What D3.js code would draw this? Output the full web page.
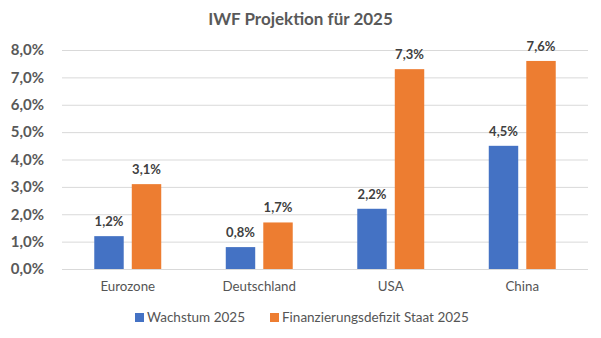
<!DOCTYPE html>
<html><head><meta charset="utf-8">
<script src="https://cdn.jsdelivr.net/npm/d3@7"></script>
<style>body{margin:0;background:#fff;} text{font-family:Lato, "Open Sans", sans-serif;}</style>
</head><body><svg id="c" width="601" height="338"></svg>
<script>
const categories = ["Eurozone", "Deutschland", "USA", "China"];
const seriesNames = ["Wachstum 2025", "Finanzierungsdefizit Staat 2025"];
const wachstum = [1.2, 0.8, 2.2, 4.5];
const defizit = [3.1, 1.7, 7.3, 7.6];
const yTicks = [0, 1, 2, 3, 4, 5, 6, 7, 8];
const colors = ["#4472C4", "#ED7D31"];
const title = "IWF Projektion für 2025";

const svg = d3.select("#c");
const pLeft = 62, pRight = 588, pTop = 50, pBottom = 269;
const fmt = v => d3.format(".1f")(v).replace(".", ",") + "%";

const x = d3.scaleBand().domain(categories).range([pLeft, pRight]).paddingInner(0).paddingOuter(0);
const y = d3.scaleLinear().domain([0, 8]).range([pBottom, pTop]);
const sub = d3.scaleBand().domain([0, 1]).range([0, x.bandwidth()]).paddingInner(0.215).paddingOuter(0.86);

svg.append("text").attr("x", 300.5).attr("y", 25).attr("text-anchor", "middle")
  .attr("font-size", 17).attr("font-weight", "bold").attr("fill", "#595959").text(title);

// gridlines
svg.append("g").selectAll("line").data(yTicks).join("line")
  .attr("x1", pLeft).attr("x2", pRight).attr("y1", d => y(d) + 0.5).attr("y2", d => y(d) + 0.5)
  .attr("stroke", "#d9d9d9").attr("stroke-width", 1);

// y axis labels
const yAxis = d3.axisLeft(y).tickValues(yTicks).tickFormat(fmt).tickSize(0).tickPadding(0);
const ya = svg.append("g").attr("transform", `translate(${pLeft - 18},0)`).call(yAxis);
ya.select(".domain").remove();
ya.selectAll("text").attr("font-size", 15).attr("font-weight", "bold").attr("fill", "#595959")
  .attr("font-family", "Lato, sans-serif");

// x axis labels
const xAxis = d3.axisBottom(x).tickSize(0).tickPadding(0);
const xa = svg.append("g").attr("transform", `translate(0,${pBottom + 10})`).call(xAxis);
xa.select(".domain").remove();
xa.selectAll("text").attr("font-size", 13.3).attr("fill", "#555555").attr("font-family", "Lato, sans-serif").attr("dy", "0.9em");

const series = [wachstum, defizit];
series.forEach((vals, si) => {
  const g = svg.append("g");
  g.selectAll("rect").data(vals).join("rect")
    .attr("x", (d, i) => x(categories[i]) + sub(si))
    .attr("width", sub.bandwidth())
    .attr("y", d => y(d)).attr("height", d => y(0) - y(d))
    .attr("fill", colors[si]);
  g.selectAll("text").data(vals).join("text")
    .attr("x", (d, i) => x(categories[i]) + sub(si) + sub.bandwidth() / 2)
    .attr("y", d => y(d) - 10).attr("text-anchor", "middle")
    .attr("font-size", 13).attr("font-weight", "bold").attr("fill", "#404040")
    .text(fmt);
});

// legend
const legX = [135, 270];
const lg = svg.append("g");
seriesNames.forEach((n, i) => {
  lg.append("rect").attr("x", legX[i]).attr("y", 313).attr("width", 9).attr("height", 9).attr("fill", colors[i]);
  lg.append("text").attr("x", legX[i] + 12).attr("y", 322).attr("font-size", 13.5)
    .attr("fill", "#555555").text(n);
});
</script></body></html>
